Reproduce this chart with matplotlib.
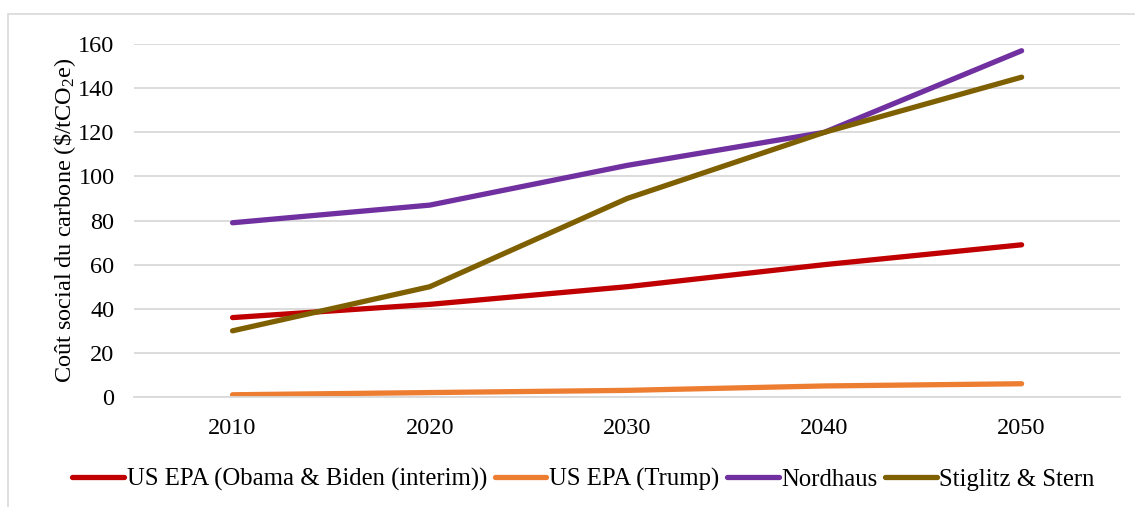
import matplotlib.pyplot as plt
from matplotlib.patches import Rectangle

plt.rcParams['font.family'] = ['Liberation Serif', 'DejaVu Serif']
plt.rcParams['mathtext.fontset'] = 'custom'
plt.rcParams['mathtext.rm'] = 'Liberation Serif'
plt.rcParams['mathtext.it'] = 'Liberation Serif:italic'

# Data
years = ['2010', '2020', '2030', '2040', '2050']
epa_obama = [36, 42, 50, 60, 69]
epa_trump = [1, 2, 3, 5, 6]
nordhaus = [79, 87, 105, 120, 157]
stiglitz = [30, 50, 90, 120, 145]

labels = ['US EPA (Obama & Biden (interim))', 'US EPA (Trump)', 'Nordhaus', 'Stiglitz & Stern']
colors = ['#C00000', '#ED7D31', '#7030A0', '#7F6000']

fig = plt.figure(figsize=(11.35, 5.07), dpi=100)
ax = fig.add_axes([0.118, 0.217, 0.869, 0.696])

# light frame around the chart area, like the Excel export
fig.patches.append(Rectangle((8 / 1135, -0.1), 1.2, 1 - 14 / 507 + 0.1,
                             transform=fig.transFigure, fill=False,
                             edgecolor='#D9D9D9', linewidth=1.2))

x = range(len(years))
for series, lab, col in zip([epa_obama, epa_trump, nordhaus, stiglitz], labels, colors):
    ax.plot(x, series, color=col, linewidth=3.8, solid_capstyle='round', label=lab)

ax.set_xlim(-0.5, len(years) - 0.5)
ax.set_ylim(0, 160)
ax.set_yticks(range(0, 161, 20))
ax.set_xticks(list(x))
ax.set_xticklabels(years)
ax.yaxis.grid(True, color='#D9D9D9', linewidth=1.3)
ax.set_axisbelow(True)
for s in ['top', 'right', 'left']:
    ax.spines[s].set_visible(False)
ax.spines['bottom'].set_color('#D9D9D9')
ax.spines['bottom'].set_linewidth(1.3)
ax.tick_params(axis='y', length=0, labelsize=17.5, pad=14)
ax.tick_params(axis='x', length=0, labelsize=17.5, pad=15)

ax.set_ylabel('Coût social du carbone (\\$/tCO$_2$e)', fontsize=17.5, labelpad=0)

fig.legend(loc='center', bbox_to_anchor=(0.514, 0.054), ncol=4, frameon=False,
           fontsize=17.8, handlelength=2.1, handletextpad=0.1, columnspacing=0.3)

fig.savefig('out.png', dpi=100)
